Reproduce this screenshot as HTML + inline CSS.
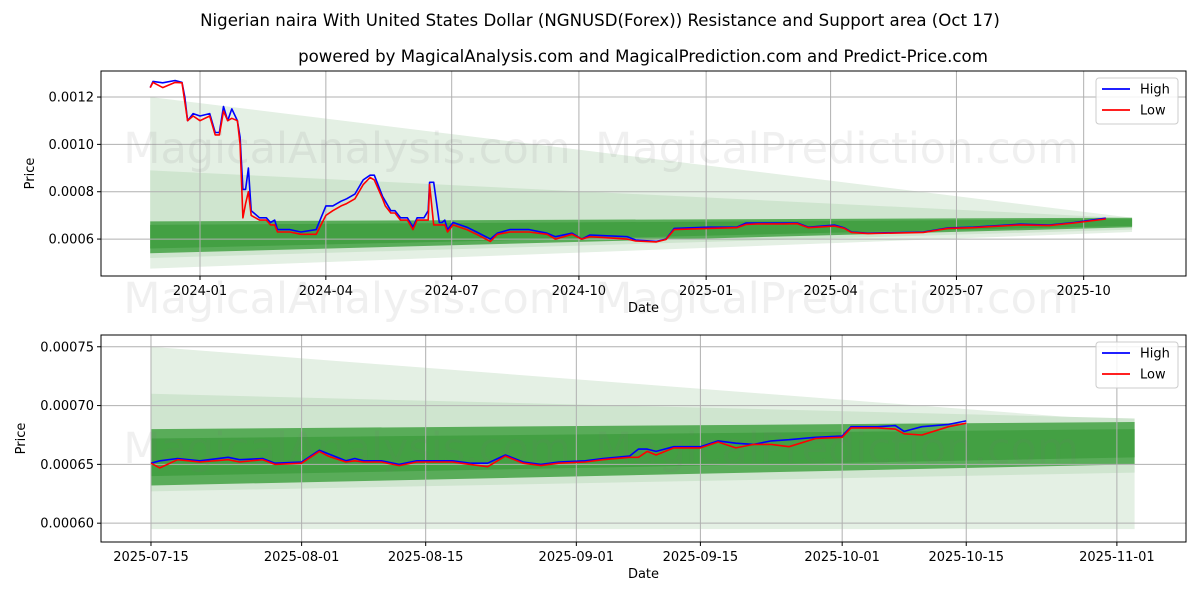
<!DOCTYPE html>
<html><head><meta charset="utf-8"><style>
html,body{margin:0;padding:0;background:#fff;}
svg{display:block;font-family:"DejaVu Sans","Liberation Sans",sans-serif;}
</style></head><body>
<svg id="chart" width="1200" height="600" viewBox="0 0 1200 600">
<text x="600" y="26" text-anchor="middle" font-size="16.6">Nigerian naira With United States Dollar (NGNUSD(Forex)) Resistance and Support area (Oct 17)</text>
<text x="643" y="62" text-anchor="middle" font-size="16.6">powered by MagicalAnalysis.com and MagicalPrediction.com and Predict-Price.com</text>
</svg>
<script>
// ---------- top chart data ----------
const topHighDates=["2023-11-26","2023-11-28","2023-12-05","2023-12-14","2023-12-19","2023-12-21","2023-12-23","2023-12-27","2024-01-01","2024-01-08","2024-01-12","2024-01-15","2024-01-18","2024-01-21","2024-01-24","2024-01-28","2024-01-30","2024-02-01","2024-02-03","2024-02-05","2024-02-07","2024-02-13","2024-02-18","2024-02-21","2024-02-24","2024-02-26","2024-03-06","2024-03-14","2024-03-25","2024-04-01","2024-04-06","2024-04-12","2024-04-16","2024-04-22","2024-04-28","2024-05-03","2024-05-06","2024-05-12","2024-05-14","2024-05-18","2024-05-21","2024-05-25","2024-05-30","2024-06-03","2024-06-06","2024-06-11","2024-06-14","2024-06-15","2024-06-18","2024-06-22","2024-06-24","2024-06-26","2024-06-28","2024-07-02","2024-07-12","2024-07-19","2024-07-29","2024-08-03","2024-08-12","2024-08-26","2024-09-08","2024-09-14","2024-09-26","2024-10-03","2024-10-09","2024-11-05","2024-11-11","2024-11-26","2024-12-03","2024-12-09","2025-01-02","2025-01-23","2025-01-30","2025-02-07","2025-02-26","2025-03-08","2025-03-16","2025-04-04","2025-04-11","2025-04-16","2025-04-28","2025-06-07","2025-06-25","2025-07-13","2025-08-16","2025-09-06","2025-09-24","2025-10-17"];
const topHigh=[0.00124,0.001266,0.00126,0.00127,0.001262,0.0012,0.0011,0.00113,0.00112,0.00113,0.00105,0.00105,0.00116,0.0011,0.00115,0.0011,0.00103,0.00081,0.00081,0.0009,0.00072,0.00069,0.00069,0.00067,0.00068,0.00064,0.00064,0.00063,0.00064,0.00074,0.00074,0.00076,0.00077,0.00079,0.00085,0.00087,0.00087,0.00078,0.00076,0.00072,0.00072,0.00069,0.00069,0.00065,0.00069,0.00069,0.00072,0.00084,0.00084,0.00067,0.00067,0.00068,0.00064,0.00067,0.00065,0.00063,0.0006,0.000625,0.00064,0.00064,0.000625,0.00061,0.000625,0.0006,0.000617,0.00061,0.000596,0.00059,0.0006,0.000645,0.00065,0.00065,0.000668,0.000668,0.000668,0.000668,0.00065,0.000659,0.000647,0.00063,0.000625,0.00063,0.000647,0.00065,0.000663,0.000659,0.00067,0.000688];
const topLow=[0.00124,0.001262,0.00124,0.001262,0.00126,0.00118,0.0011,0.00112,0.0011,0.00112,0.00104,0.00104,0.00114,0.0011,0.00111,0.0011,0.001,0.00069,0.00075,0.0008,0.0007,0.00068,0.00068,0.00066,0.00066,0.00063,0.00063,0.00062,0.00062,0.0007,0.00072,0.00074,0.00075,0.00077,0.00083,0.00086,0.00085,0.00077,0.00074,0.00071,0.00071,0.00068,0.00068,0.00064,0.00068,0.00068,0.00068,0.00083,0.00066,0.00066,0.00066,0.00066,0.00063,0.00066,0.00064,0.00062,0.00059,0.00062,0.00063,0.00063,0.00062,0.0006,0.00062,0.0006,0.00061,0.0006,0.000592,0.000588,0.000598,0.00064,0.000645,0.000648,0.000662,0.000664,0.000664,0.000665,0.000648,0.000655,0.000645,0.000628,0.000623,0.000628,0.000645,0.000648,0.00066,0.000657,0.000668,0.000685];
const topBandDates=["2023-11-26","2025-11-05"];
const topBandLight=[[0.0012,0.00069],[0.000475,0.00063]];
const topBandMid=[[0.00089,0.000688],[0.00052,0.00064]];
const topBandDark=[[0.000675,0.00069],[0.00054,0.00065]];
const topBandCore=[[0.00066,0.000684],[0.00056,0.000656]];
const topYTicks=[0.0006,0.0008,0.0010,0.0012];
const topYLabels=["0.0006","0.0008","0.0010","0.0012"];
const topXTicks=["2024-01-01","2024-04-01","2024-07-01","2024-10-01","2025-01-01","2025-04-01","2025-07-01","2025-10-01"];
const topXLabels=["2024-01","2024-04","2024-07","2024-10","2025-01","2025-04","2025-07","2025-10"];

// ---------- bottom chart data ----------
const botDays=[0,1,3,5.5,8.7,10,12.6,14,17,19,20,22,23,24,26,28,30,34,36,38,40,42,44,46,49,51,54,55,56,57,59,62,64,66,68,70,72,75,78,79,82,84,85,87,90,92];
const botHigh=[0.000651,0.000653,0.000655,0.000653,0.000656,0.000654,0.000655,0.000651,0.000652,0.000662,0.000659,0.000653,0.000655,0.000653,0.000653,0.00065,0.000653,0.000653,0.000651,0.000651,0.000658,0.000652,0.00065,0.000652,0.000653,0.000655,0.000657,0.000663,0.000663,0.000661,0.000665,0.000665,0.00067,0.000668,0.000667,0.00067,0.000671,0.000673,0.000674,0.000682,0.000682,0.000683,0.000678,0.000682,0.000684,0.000687];
const botLow=[0.000651,0.000647,0.000654,0.000652,0.000654,0.000652,0.000654,0.00065,0.000651,0.000661,0.000657,0.000652,0.000653,0.000652,0.000652,0.000649,0.000652,0.000652,0.00065,0.000648,0.000657,0.000651,0.000649,0.000651,0.000652,0.000654,0.000656,0.000656,0.000661,0.000658,0.000664,0.000664,0.000669,0.000664,0.000667,0.000667,0.000665,0.000672,0.000673,0.000681,0.000681,0.00068,0.000676,0.000675,0.000682,0.000685];
const botBandDays=[0,111];
const botBandLight=[[0.00075,0.000686],[0.000595,0.000595]];
const botBandMid=[[0.00071,0.000689],[0.000627,0.000643]];
const botBandDark=[[0.00068,0.000686],[0.000632,0.00065]];
const botBandCore=[[0.000672,0.00068],[0.00064,0.000656]];
const botYTicks=[0.0006,0.00065,0.0007,0.00075];
const botYLabels=["0.00060","0.00065","0.00070","0.00075"];
const botXTicks=[0,17,31,48,62,78,92,109];
const botXLabels=["2025-07-15","2025-08-01","2025-08-15","2025-09-01","2025-09-15","2025-10-01","2025-10-15","2025-11-01"];

const NS="http://www.w3.org/2000/svg";
const svg=document.getElementById('chart');
function mk(tag,attrs,parent){const e=document.createElementNS(NS,tag);for(const k in attrs)e.setAttribute(k,attrs[k]);(parent||svg).appendChild(e);return e;}
const DAY=86400000, BASE=Date.UTC(2024,0,1);
function dnum(s){const p=s.split('-');return (Date.UTC(+p[0],p[1]-1,+p[2])-BASE)/DAY;}

function drawPanel(o){
  const g=mk('g',{});
  
  
  const X=v=>o.x0+(v-o.d0)/(o.d1-o.d0)*(o.x1-o.x0);
  const Y=v=>o.y1-(v-o.v0)/(o.v1-o.v0)*(o.y1-o.y0);
  const bands=[[o.light,'#e4f0e4','band-outer'],[o.mid,'#cfe5cf','band-middle'],[o.dark,'#59ac59','band-inner'],[o.core,'#43a043','band-core']];
  bands.forEach(b=>{
    const a=b[0];
    const pts=[[X(o.bd[0]),Y(a[0][0])],[X(o.bd[1]),Y(a[0][1])],[X(o.bd[1]),Y(a[1][1])],[X(o.bd[0]),Y(a[1][0])]];
    const p=mk('polygon',{points:pts.map(q=>q.join(',')).join(' '),fill:b[1]},g);
    
    
  });
  o.yt.forEach((v,i)=>{
    mk('line',{x1:o.x0,x2:o.x1,y1:Y(v),y2:Y(v),stroke:'#b0b0b0','stroke-width':1},g);
    mk('line',{x1:o.x0-4,x2:o.x0,y1:Y(v),y2:Y(v),stroke:'#000'},g);
    const t=mk('text',{x:o.x0-7,y:Y(v)+4.5,'text-anchor':'end','font-size':13},g);t.textContent=o.yl[i];
    
    
  });
  o.xt.forEach((v,i)=>{
    mk('line',{x1:X(v),x2:X(v),y1:o.y0,y2:o.y1,stroke:'#b0b0b0','stroke-width':1},g);
    mk('line',{x1:X(v),x2:X(v),y1:o.y1,y2:o.y1+4,stroke:'#000'},g);
    const t=mk('text',{x:X(v),y:o.y1+19,'text-anchor':'middle','font-size':13},g);t.textContent=o.xl[i];
    
    
  });
  o.wm.forEach(w=>{
    const t=mk('text',{x:w[0],y:w[1],'text-anchor':'middle','font-size':43,fill:'rgba(120,120,120,0.11)'},g);t.textContent=w[2];
    
    
  });
  [[o.hi,'#0000ff','high-line'],[o.lo,'#ff0000','low-line']].forEach(s=>{
    const d=o.dx.map((v,i)=>(i?'L':'M')+X(v).toFixed(1)+','+Y(s[0][i]).toFixed(1)).join('');
    const p=mk('path',{d:d,fill:'none',stroke:s[1],'stroke-width':1.6,'stroke-linejoin':'round'},g);
    
    
  });
  mk('rect',{x:o.x0,y:o.y0,width:o.x1-o.x0,height:o.y1-o.y0,fill:'none',stroke:'#000','stroke-width':1},g);
  const xt=mk('text',{x:(o.x0+o.x1)/2,y:o.y1+36,'text-anchor':'middle','font-size':13},g);xt.textContent='Date';
  
  
  const cy=(o.y0+o.y1)/2;
  const yt=mk('text',{x:o.ytx,y:cy,'text-anchor':'middle','font-size':13,transform:`rotate(-90 ${o.ytx} ${cy})`},g);yt.textContent='Price';
  
  
  const lg=mk('g',{},g);
  
  
  mk('rect',{x:o.x1-90,y:o.y0+7,width:82,height:46,rx:3,fill:'#fff','fill-opacity':0.85,stroke:'#ccc'},lg);
  [['High','#0000ff',0],['Low','#ff0000',21]].forEach(e=>{
    const yy=o.y0+18+e[2];
    mk('line',{x1:o.x1-84,x2:o.x1-56,y1:yy,y2:yy,stroke:e[1],'stroke-width':1.8},lg);
    const t=mk('text',{x:o.x1-46,y:yy+4.5,'font-size':13},lg);t.textContent=e[0];
    
    
  });
}
drawPanel({name:'top-panel',x0:101,x1:1186,y0:71,y1:276,d0:-71.6,d1:713,v0:0.000444,v1:0.00131,
  bd:topBandDates.map(dnum),light:topBandLight,mid:topBandMid,dark:topBandDark,core:topBandCore,
  yt:topYTicks,yl:topYLabels,xt:topXTicks.map(dnum),xl:topXLabels,dx:topHighDates.map(dnum),hi:topHigh,lo:topLow,ytx:34,
  wm:[[347,163,'MagicalAnalysis.com'],[837,163,'MagicalPrediction.com'],[347,313,'MagicalAnalysis.com'],[837,313,'MagicalPrediction.com']]});
drawPanel({name:'bottom-panel',x0:101,x1:1186,y0:335,y1:542,d0:-5.64,d1:116.8,v0:0.000584,v1:0.00076,
  bd:botBandDays,light:botBandLight,mid:botBandMid,dark:botBandDark,core:botBandCore,
  yt:botYTicks,yl:botYLabels,xt:botXTicks,xl:botXLabels,dx:botDays,hi:botHigh,lo:botLow,ytx:25,
  wm:[[347,463,'MagicalAnalysis.com'],[837,463,'MagicalPrediction.com']]});
</script>
</body></html>
